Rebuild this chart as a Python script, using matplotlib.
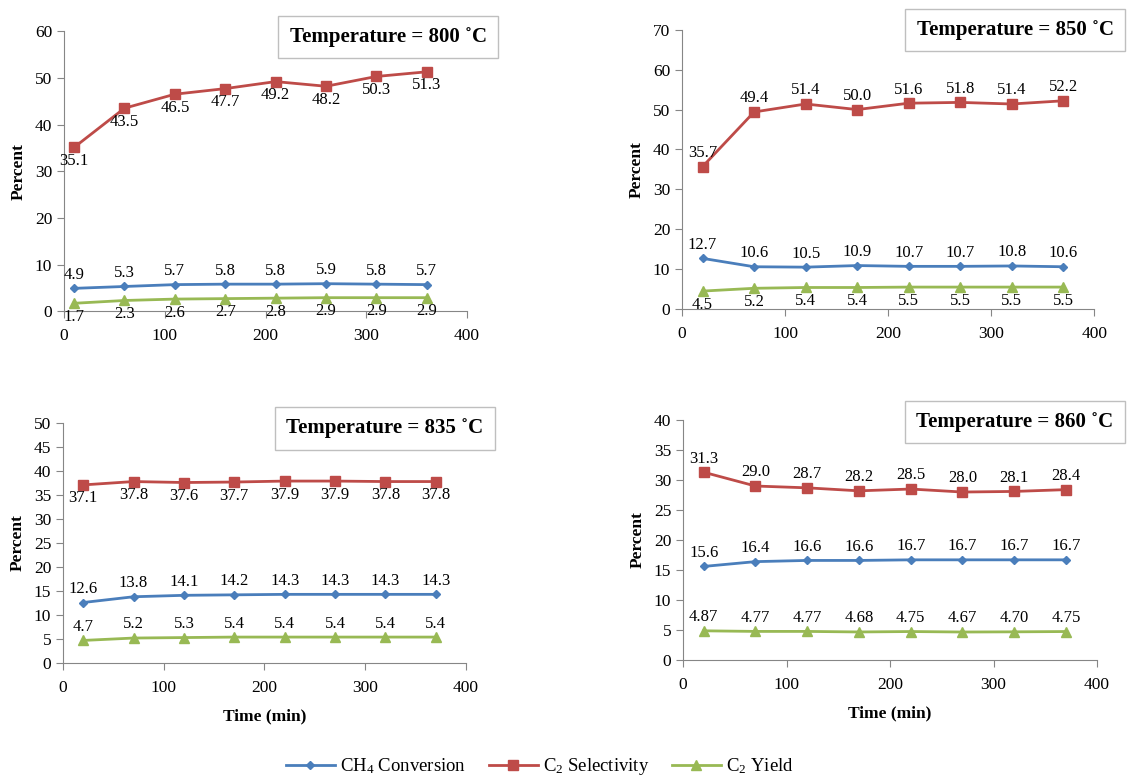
import matplotlib
matplotlib.use("Agg")
import matplotlib.pyplot as plt

plt.rcParams['font.family'] = ['Liberation Serif', 'DejaVu Serif']
plt.rcParams['mathtext.fontset'] = 'custom'
plt.rcParams['mathtext.rm'] = 'Liberation Serif'
plt.rcParams['mathtext.it'] = 'Liberation Serif:italic'

# Данные: время (мин) и проценты для каждой температуры
time_800 = [10, 60, 110, 160, 210, 260, 310, 360]
ch4_800 = [4.9, 5.3, 5.7, 5.8, 5.8, 5.9, 5.8, 5.7]
sel_800 = [35.1, 43.5, 46.5, 47.7, 49.2, 48.2, 50.3, 51.3]
yield_800 = [1.7, 2.3, 2.6, 2.7, 2.8, 2.9, 2.9, 2.9]

time_850 = [20, 70, 120, 170, 220, 270, 320, 370]
ch4_850 = [12.7, 10.6, 10.5, 10.9, 10.7, 10.7, 10.8, 10.6]
sel_850 = [35.7, 49.4, 51.4, 50.0, 51.6, 51.8, 51.4, 52.2]
yield_850 = [4.5, 5.2, 5.4, 5.4, 5.5, 5.5, 5.5, 5.5]

time_835 = [20, 70, 120, 170, 220, 270, 320, 370]
ch4_835 = [12.6, 13.8, 14.1, 14.2, 14.3, 14.3, 14.3, 14.3]
sel_835 = [37.1, 37.8, 37.6, 37.7, 37.9, 37.9, 37.8, 37.8]
yield_835 = [4.7, 5.2, 5.3, 5.4, 5.4, 5.4, 5.4, 5.4]

time_860 = [20, 70, 120, 170, 220, 270, 320, 370]
ch4_860 = [15.6, 16.4, 16.6, 16.6, 16.7, 16.7, 16.7, 16.7]
sel_860 = [31.3, 29.0, 28.7, 28.2, 28.5, 28.0, 28.1, 28.4]
yield_860 = [4.87, 4.77, 4.77, 4.68, 4.75, 4.67, 4.70, 4.75]

series_names = ['CH$_4$ Conversion', 'C$_2$ Selectivity', 'C$_2$ Yield']
colors = ['#4A7EBB', '#BE4B48', '#98B954']
markers = ['D', 's', '^']
msizes = [4.5, 7, 6.5]

# (позиция осей, время, ряды, ymax, шаг, подпись, позиции подписей, формат, рамка, ось X)
panels = [
    ([0.0559, 0.601, 0.352, 0.359], time_800, [ch4_800, sel_800, yield_800],
     60, 10, '800', ['above', 'below', 'below'], ['%.1f', '%.1f', '%.1f'], (0.339, 0.9526), False),
    ([0.5956, 0.6038, 0.360, 0.358], time_850, [ch4_850, sel_850, yield_850],
     70, 10, '850', ['above', 'above', 'below'], ['%.1f', '%.1f', '%.1f'], (0.8865, 0.9615), False),
    ([0.0550, 0.150, 0.352, 0.3077], time_835, [ch4_835, sel_835, yield_835],
     50, 5, '835', ['above', 'below', 'above'], ['%.1f', '%.1f', '%.1f'], (0.336, 0.451), True),
    ([0.5965, 0.1538, 0.3616, 0.3077], time_860, [ch4_860, sel_860, yield_860],
     40, 5, '860', ['above', 'above', 'above'], ['%.1f', '%.1f', '%.2f'], (0.8865, 0.459), True),
]

fig = plt.figure(figsize=(11.45, 7.8), dpi=100)

handles = []
for pos, t, data, ymax, step, temp, places, fmts, tpos, xlab in panels:
    ax = fig.add_axes(pos)
    hs = []
    for vals, c, m, ms, place, fmt in zip(data, colors, markers, msizes, places, fmts):
        h, = ax.plot(t, vals, color=c, marker=m, markersize=ms, lw=2,
                     markeredgecolor=c, clip_on=False, zorder=3)
        hs.append(h)
        for x, v in zip(t, vals):
            if place == 'above':
                ax.annotate(fmt % v, (x, v), xytext=(0, 4), textcoords='offset points',
                            ha='center', va='bottom', fontsize=12)
            else:
                ax.annotate(fmt % v, (x, v), xytext=(0, -4), textcoords='offset points',
                            ha='center', va='top', fontsize=12)
    handles = hs
    ax.set_xlim(0, 400)
    ax.set_ylim(0, ymax)
    ax.set_xticks(range(0, 401, 100))
    ax.set_yticks(range(0, ymax + 1, step))
    for s in ['top', 'right']:
        ax.spines[s].set_visible(False)
    for s in ['left', 'bottom']:
        ax.spines[s].set_color('#868686')
    ax.tick_params(direction='out', length=5, color='#868686', labelsize=12.5)
    ax.tick_params(axis='x', pad=7)
    ax.set_ylabel('Percent', fontsize=12.5, fontweight='bold', labelpad=6)
    if xlab:
        ax.set_xlabel('Time (min)', fontsize=12.5, fontweight='bold', labelpad=9)
    fig.text(tpos[0], tpos[1], 'Temperature = %s ˚C' % temp, ha='center', va='center',
             fontsize=15, fontweight='bold',
             bbox=dict(boxstyle='square,pad=0.55', fc='white', ec='#BFBFBF', lw=1))

fig.legend(handles, series_names, loc='center', bbox_to_anchor=(0.4716, 0.017),
           ncol=3, frameon=False, fontsize=13.5, handlelength=2.6, columnspacing=1.2,
           handletextpad=0.3)

fig.savefig('out.png', dpi=100)
